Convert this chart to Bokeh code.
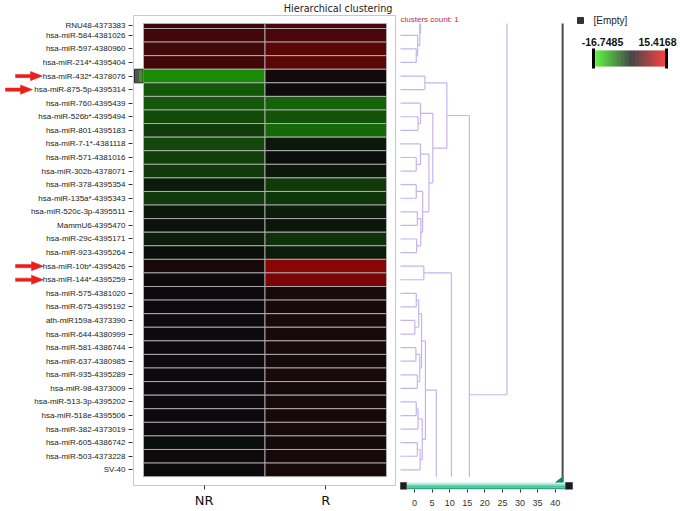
import numpy as np
from bokeh.plotting import figure
from bokeh.layouts import row
from bokeh.models import (Range1d, FixedTicker, ColumnDataSource)
from bokeh.transform import linear_cmap
from bokeh.core.properties import value
from bokeh.embed import file_html
from bokeh.resources import INLINE

# ---------------- data ----------------
row_labels = [
    "RNU48-4373383", "hsa-miR-584-4381026", "hsa-miR-597-4380960", "hsa-miR-214*-4395404",
    "hsa-miR-432*-4378076", "hsa-miR-875-5p-4395314", "hsa-miR-760-4395439", "hsa-miR-526b*-4395494",
    "hsa-miR-801-4395183", "hsa-miR-7-1*-4381118", "hsa-miR-571-4381016", "hsa-miR-302b-4378071",
    "hsa-miR-378-4395354", "hsa-miR-135a*-4395343", "hsa-miR-520c-3p-4395511", "MammU6-4395470",
    "hsa-miR-29c-4395171", "hsa-miR-923-4395264", "hsa-miR-10b*-4395426", "hsa-miR-144*-4395259",
    "hsa-miR-575-4381020", "hsa-miR-675-4395192", "ath-miR159a-4373390", "hsa-miR-644-4380999",
    "hsa-miR-581-4386744", "hsa-miR-637-4380985", "hsa-miR-935-4395289", "hsa-miR-98-4373009",
    "hsa-miR-513-3p-4395202", "hsa-miR-518e-4395506", "hsa-miR-382-4373019", "hsa-miR-605-4386742",
    "hsa-miR-503-4373228", "SV-40",
]
samples = ["NR", "R"]
nr_values = [3.2, 3.4, 3.5, 3.4, -8.8, -5.2, -5.3, -4.4, -3.4, -4.3, -3.6, -3.3,
             -1.2, -3.2, -0.8, -0.5, -1.3, -0.3, 0.9, 0.1, 0.1, 0.1, 0.1, 0.1,
             0.2, 0.2, 0.2, 0.2, 0.2, 0.1, 0.1, -0.4, 0.1, 0.1]
r_values = [3.8, 3.9, 5.0, 5.0, 0.7, 0.1, -6.0, -5.0, -6.4, -1.0, -0.3, -0.8,
            -3.2, -3.0, -1.4, -0.8, -2.8, -1.2, 8.0, 7.0, 0.9, 0.8, 1.0, 0.9,
            0.9, 0.8, 0.9, 0.8, 0.9, 0.8, 0.9, 0.7, 0.8, 0.9]
arrow_rows = ["hsa-miR-432*-4378076", "hsa-miR-875-5p-4395314",
              "hsa-miR-10b*-4395426", "hsa-miR-144*-4395259"]
selected_row = "hsa-miR-432*-4378076"
color_low = -16.7485
color_high = 15.4168
dendro_ticks = [0, 5, 10, 15, 20, 25, 30, 35, 40]
cut_distance = 42.1
clusters_count = 1
# dendrogram merges (negative / >33 indices = rows outside the visible window)
merge_a = [2, 1, 0, -3, 4, 7, 6, 10, 9, 12, 14, 16, "m10", "m9", "m8", "m6", "m4",
           18, 20, 22, "m18", 24, 26, "m21", "m20", 28, "m25", 31, "m27", "m26", "m24",
           "m30", "m17", "m16", -20]
merge_b = [3, "m0", "m1", "m2", 5, 8, "m5", 11, "m7", 13, 15, 17, "m11", "m12", "m13", "m14", "m15",
           19, 21, 23, "m19", 25, 27, "m22", "m23", 29, 30, 32, 33, "m28", "m29",
           128, "m31", "m32", "m33"]
merge_dist = [0.5, 0.9, 1.5, 1.7, 2.95, 1.0, 1.7, 0.5, 1.7, 0.5, 0.8, 0.6, 1.8, 2.3, 4.1, 5.2, 9.2,
              2.65, 0.5, 0.1, 1.2, 0.4, 0.8, 1.5, 2.0, 0.5, 1.0, 0.8, 1.6, 2.2, 3.1,
              6.2, 10.5, 15.6, 26.3]

# ---------------- geometry helpers (page pixels -> data units) ----------------
FIG_H = 511
FT, FB = 14, 489                # frame top / bottom (shared by all plots in the row)
ROW_PX = 13.58
V0 = 0.132                      # first visible row coordinate (view is scrolled)
V_END = len(row_labels) - 0.5
HEAT_TOP = 23
def pv(Y):
    return V0 + (Y - HEAT_TOP) / ROW_PX
COL_PX = 121.5
HEAT_LEFT = 143
def pc(X):
    return (X - HEAT_LEFT) / COL_PX
def pu(X):
    return (X - 414) / 3.518

# palette green-black-red
def make_palette(n=256):
    black = np.array([10, 10, 12.0]); green = np.array([40, 255, 0.0]); red = np.array([255, 0, 0.0])
    out = []
    for v in np.linspace(color_low, color_high, n):
        if v < 0:
            c = black + (green - black) * (v / color_low)
        else:
            c = black + (red - black) * (v / color_high)
        out.append("#%02x%02x%02x" % tuple(int(round(x)) for x in np.clip(c, 0, 255)))
    return out
palette = make_palette()

FONT = "Liberation Sans"

# ---------------- Figure A: heatmap (frame spans the label area; axis fixed at panel edge) ----------------
pA = figure(width=398, height=FIG_H, x_range=Range1d(pc(0), pc(396)),
            y_range=Range1d(pv(FB), pv(FT)), output_backend="svg", toolbar_location=None,
            min_border_left=0, min_border_right=2, min_border_top=FT,
            min_border_bottom=FIG_H - FB, title="Hierarchical clustering")
pA.title.align = "right"
pA.title.offset = 4
pA.title.standoff = 1
pA.title.text_font = "DejaVu Sans"
pA.title.text_font_size = "9.7px"
pA.title.text_font_style = "normal"
pA.title.text_color = "#222222"
pA.xgrid.visible = False
pA.ygrid.visible = False
pA.outline_line_color = None
pA.background_fill_color = "white"

# panel box
pA.quad(left=[pc(133)], right=[pc(395)], top=[pv(15)], bottom=[pv(485)],
        fill_color=None, line_color="#c8c8c8", line_width=1)

lefts, rights, tops, bottoms, vals = [], [], [], [], []
for i, lab in enumerate(row_labels):
    for j, vv in enumerate([nr_values[i], r_values[i]]):
        lefts.append(j); rights.append(j + 1)
        tops.append(max(i - 0.5, V0)); bottoms.append(i + 0.5)
        vals.append(vv)
src = ColumnDataSource(dict(left=lefts, right=rights, top=tops, bottom=bottoms, val=vals))
pA.quad(left="left", right="right", top="top", bottom="bottom", source=src,
        fill_color=linear_cmap("val", palette, color_low, color_high),
        line_color="#b8b8b8", line_alpha=0.85, line_width=1)

# selection marker
si = row_labels.index(selected_row)
pA.quad(left=[pc(134)], right=[pc(142.5)], top=[si - 0.5], bottom=[si + 0.5],
        fill_color="#555555", line_color="#2a2a2a", line_width=1)
pA.quad(left=[pc(138.5)], right=[pc(142)], top=[si - 0.42], bottom=[si + 0.42],
        fill_color="#3c9a22", line_color=None)

# row-label axis, pinned at the left edge of the panel box
tick_pos = [(V0 + 0.5) / 2] + list(range(1, len(row_labels)))
pA.yaxis.fixed_location = pc(132)
pA.yaxis.ticker = FixedTicker(ticks=tick_pos, minor_ticks=[])
pA.yaxis.major_label_overrides = {t: lab for t, lab in zip(tick_pos, row_labels)}
pA.yaxis.major_label_text_font = FONT
pA.yaxis.major_label_text_font_size = "8px"
pA.yaxis.major_label_text_color = "#222222"
pA.yaxis.major_label_standoff = 3
pA.yaxis.major_tick_out = 4
pA.yaxis.major_tick_in = 0
pA.yaxis.major_tick_line_color = "#333333"
pA.yaxis.axis_line_color = None
pA.yaxis.minor_tick_line_color = None

x_pos = [0.5, 1.5]
pA.xaxis.ticker = FixedTicker(ticks=x_pos, minor_ticks=[])
pA.xaxis.major_label_overrides = {t: s for t, s in zip(x_pos, samples)}
pA.xaxis.major_label_text_font = "DejaVu Sans"
pA.xaxis.major_label_text_font_size = "13px"
pA.xaxis.major_label_text_color = "#111111"
pA.xaxis.major_label_standoff = 3
pA.xaxis.major_tick_in = FB - 485      # ticks hang just under the panel box
pA.xaxis.major_tick_out = 0
pA.xaxis.major_tick_line_color = "#333333"
pA.xaxis.axis_line_color = None
pA.xaxis.minor_tick_line_color = None

# arrows pointing at rows
arrow_tail_px = [15, 5, 15, 15]
arrow_tip_px = [42, 32, 43, 43]
RED = "#e8201c"
axs, ays = [], []
for lab, x0, x1 in zip(arrow_rows, arrow_tail_px, arrow_tip_px):
    r = row_labels.index(lab)
    hb = x1 - 12
    px = [x0, hb, hb, x1, hb, hb, x0]
    py = [-1.6, -1.6, -4.6, 0, 4.6, 1.6, 1.6]
    axs.append([pc(x) for x in px])
    ays.append([r + d / ROW_PX for d in py])
pA.patches(xs=axs, ys=ays, fill_color=RED, line_color=RED, line_width=0.5)

# ---------------- Figure B: dendrogram ----------------
pB = figure(width=176, height=FIG_H, x_range=Range1d(pu(398), pu(574)),
            y_range=Range1d(pv(FB), pv(FT)), output_backend="svg", toolbar_location=None,
            y_axis_location=None, min_border_left=0, min_border_right=0,
            min_border_top=FT, min_border_bottom=FIG_H - FB)
pB.xgrid.visible = False
pB.ygrid.visible = False
pB.outline_line_color = None

LEAF_U = pu(400)
pos = {}
def node_pos(n):
    if isinstance(n, str):
        return pos[n]
    return (LEAF_U, float(n))
hx0, hx1, hy = [], [], []
vx, vy0, vy1 = [], [], []
for k, (a, b, d) in enumerate(zip(merge_a, merge_b, merge_dist)):
    xa, ya = node_pos(a)
    xb, yb = node_pos(b)
    for (xx, yy) in [(xa, ya), (xb, yb)]:
        if V0 <= yy <= V_END:
            hx0.append(xx); hx1.append(d); hy.append(yy)
    lo, hi = sorted([ya, yb])
    lo_c, hi_c = max(lo, V0), min(hi, V_END)
    if hi_c > lo_c:
        vx.append(d); vy0.append(lo_c); vy1.append(hi_c)
    pos["m%d" % k] = (d, (ya + yb) / 2)
DCOL = "#c6b4ee"
pB.segment(x0=hx0, y0=hy, x1=hx1, y1=hy, line_color=DCOL, line_width=1.2)
pB.segment(x0=vx, y0=vy0, x1=vx, y1=vy1, line_color=DCOL, line_width=1.2)

# cut line and marker
pB.segment(x0=[cut_distance], y0=[V0], x1=[cut_distance], y1=[V_END], line_color="#4a4a4a", line_width=2)
pB.patch(x=[pu(562.7), pu(562.7), pu(555)], y=[pv(476), pv(482), pv(482)],
         fill_color="#1e7c72", line_color="#1e7c72")
pB.text(x=[LEAF_U], y=[pv(19)], text=["clusters count: %d" % clusters_count],
        text_font=value(FONT), text_font_size="8px", text_color="#c8284a",
        text_baseline="middle", text_align="left")

# slider bar
s_top, s_bot = pv(482), pv(FB)
band_cols = ["#c2f3dc", "#7ad8b6", "#4cbf9c", "#34a486"]
edges = np.linspace(s_top, s_bot, len(band_cols) + 1)
pB.quad(left=[pu(405)] * len(band_cols), right=[pu(566)] * len(band_cols),
        top=list(edges[:-1]), bottom=list(edges[1:]), fill_color=band_cols, line_color=None)
pB.quad(left=[pu(400), pu(565)], right=[pu(406), pu(572)], top=[s_top] * 2, bottom=[s_bot] * 2,
        fill_color="#1c1c1c", line_color="#555555", line_width=1)

pB.xaxis.ticker = FixedTicker(ticks=dendro_ticks, minor_ticks=[])
pB.xaxis.major_label_text_font = FONT
pB.xaxis.major_label_text_font_size = "9px"
pB.xaxis.major_label_text_color = "#333333"
pB.xaxis.major_label_standoff = 7
pB.xaxis.major_tick_out = 3
pB.xaxis.major_tick_in = 0
pB.xaxis.major_tick_line_color = "#333333"
pB.xaxis.axis_line_color = None
pB.xaxis.minor_tick_line_color = None

# ---------------- Figure C: colour legend ----------------
LEG_PX = 73 / (color_high - color_low)
pC = figure(width=104, height=FIG_H, x_range=Range1d(color_low - 19 / LEG_PX, color_high + 12 / LEG_PX),
            y_range=Range1d(FB, FT), output_backend="svg", toolbar_location=None,
            x_axis_location=None, y_axis_location=None, min_border_left=0, min_border_right=0,
            min_border_top=FT, min_border_bottom=FIG_H - FB)
pC.xgrid.visible = False
pC.ygrid.visible = False
pC.outline_line_color = None

pC.scatter(x=[color_low - 13 / LEG_PX], y=[20], marker="square", size=6,
           fill_color="#333333", line_color="#333333")
pC.text(x=[color_low], y=[20], text=["[Empty]"], text_font=value(FONT), text_font_size="10px",
        text_color="#222222", text_baseline="middle", text_align="left")
grad_edges = np.linspace(color_low, color_high, 129)
grad_mid = (grad_edges[:-1] + grad_edges[1:]) / 2
gsrc = ColumnDataSource(dict(left=grad_edges[:-1], right=grad_edges[1:], v=grad_mid))
pC.quad(left="left", right="right", top=50, bottom=66, source=gsrc,
        fill_color=linear_cmap("v", palette, color_low, color_high), line_color=None)
pC.segment(x0=[color_low, color_high], y0=[48, 48], x1=[color_low, color_high], y1=[68, 68],
           line_color="#000000", line_width=3)
pC.text(x=[color_low], y=[41], text=["%.4f" % color_low], x_offset=9, text_font=value(FONT),
        text_font_size="10.5px", text_font_style="bold", text_color="#111111",
        text_baseline="middle", text_align="center")
pC.text(x=[color_high], y=[41], text=["%.4f" % color_high], x_offset=-9, text_font=value(FONT),
        text_font_size="10.5px", text_font_style="bold", text_color="#111111",
        text_baseline="middle", text_align="center")

layout = row(pA, pB, pC)
open("out.html", "w").write(file_html(layout, INLINE))
